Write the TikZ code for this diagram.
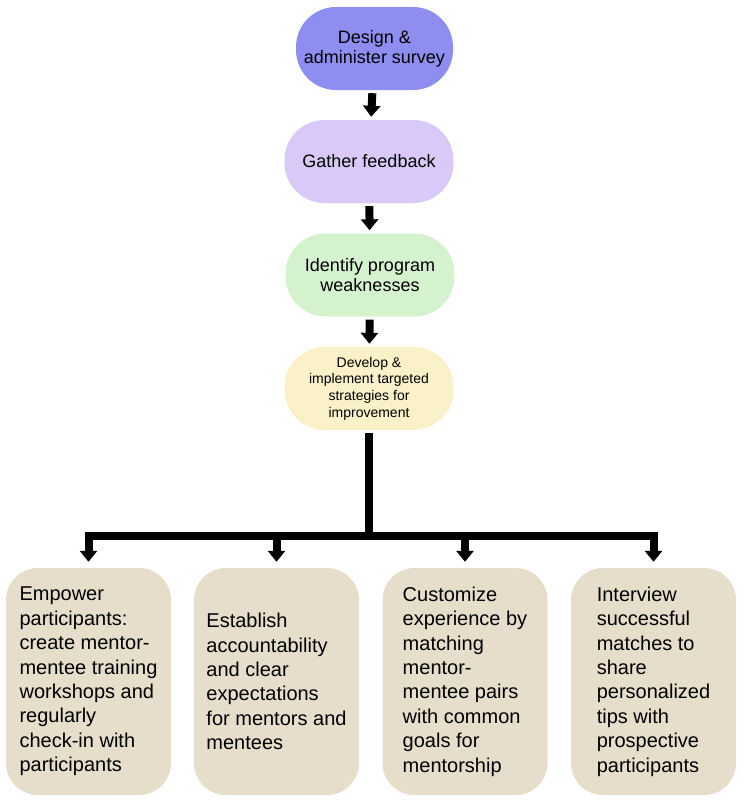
\documentclass[tikz,border=0pt]{standalone}
\usepackage{fontspec}
\setmainfont{Liberation Sans}
\usetikzlibrary{arrows.meta}

\definecolor{surveyblue}{HTML}{8E8EF0}
\definecolor{feedbacklilac}{HTML}{D9C9F8}
\definecolor{weakgreen}{HTML}{D5F2CF}
\definecolor{planyellow}{HTML}{FAF1C9}
\definecolor{actionbeige}{HTML}{E6DDCB}

\tikzset{
  stage/.style={rounded corners=40pt, minimum width=169pt, minimum height=83pt,
    align=center, inner sep=0pt, font=\fontsize{18}{20}\selectfont},
  action/.style={rounded corners=32pt, fill=actionbeige, minimum width=165pt,
    minimum height=227pt, align=left, inner sep=0pt, font=\fontsize{20}{24.4}\selectfont},
  flow/.style={line width=8pt, -{Triangle[width=17pt,length=11pt]},
    shorten <=3pt, shorten >=3pt},
  branch/.style={line width=8pt, -{Triangle[width=17pt,length=11pt]}, shorten >=6pt},
}

\begin{document}
\begin{tikzpicture}[x=1pt,y=-1pt]
  \useasboundingbox (0,0) rectangle (742,800);

  \node[stage, fill=surveyblue, minimum width=157pt] (survey) at (374.5,48.5) {Design \&\\administer survey};
  \node[stage, fill=feedbacklilac] (feedback) at (369,161.5) {Gather feedback};
  \node[stage, fill=weakgreen] (weak) at (370,275) {Identify program\\weaknesses};
  \node[stage, fill=planyellow, font=\fontsize{14}{16.7}\selectfont] (plan) at (369,388.5)
    {Develop \&\\implement targeted\\strategies for\\improvement};

  \node[action] (empower) at (88.5,681.5) {Empower\\participants:\\create mentor-\\mentee training\\workshops and\\regularly\\check-in with\\participants};
  \node[action] (account) at (276.5,681.5) {Establish\\accountability\\and clear\\expectations\\for mentors and\\mentees};
  \node[action] (custom) at (465,681.5) {Customize\\experience by\\matching\\mentor-\\mentee pairs\\with common\\goals for\\mentorship};
  \node[action] (interview) at (653.5,681.5) {Interview\\successful\\matches to\\share\\personalized\\tips with\\prospective\\participants};

  \coordinate (hub) at (369,536);

  \draw[flow] (survey) -- (feedback);
  \draw[flow] (feedback) -- (weak);
  \draw[flow] (weak) -- (plan);

  \draw[line width=8.5pt, shorten <=3pt] (plan.south) -- (hub);
  \draw[branch] (hub) -| (empower.north);
  \draw[branch] (hub) -| (account.north);
  \draw[branch] (hub) -| (custom.north);
  \draw[branch] (hub) -| (interview.north);
\end{tikzpicture}
\end{document}
